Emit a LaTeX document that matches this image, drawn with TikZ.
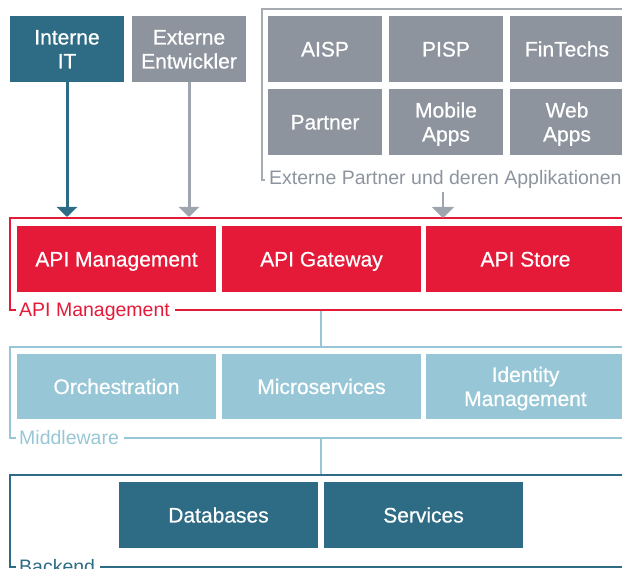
\documentclass[tikz,border=0pt]{standalone}
\usepackage{fontspec}
\setmainfont{Liberation Sans}
\newfontfamily\medfont[FakeBold=0.6]{Liberation Sans}
\usetikzlibrary{arrows.meta}
\definecolor{apired}{HTML}{E41A38}
\definecolor{tealc}{HTML}{2E6C85}
\definecolor{grayb}{HTML}{8E949E}
\definecolor{lblue}{HTML}{97C7D6}
\definecolor{arrgray}{HTML}{9EA5AE}
\definecolor{framegray}{HTML}{A6ABB2}
\begin{document}
\begin{tikzpicture}[x=1pt,y=-1pt,
  box/.style={draw=none, inner sep=0pt, text=white, align=center,
    font=\medfont\fontsize{21}{24}\selectfont, minimum height=66pt,
    text height=15pt, text depth=0pt},
  two/.style={text height=39pt, text depth=0pt},
  sbox/.style={box, minimum width=114pt},
  wbox/.style={box, minimum width=199pt},
  lab/.style={inner ysep=0pt, inner xsep=3pt, anchor=base west,
    font=\fontsize{19.5}{22}\selectfont},
  frameline/.style={line width=1.3pt},
  bigarrow/.style={line width=3pt, -{Triangle[width=20pt,length=10pt]}},
  link/.style={lblue, line width=2pt}]
\useasboundingbox (0,0) rectangle (622,569);
\clip (0,0) rectangle (622,569);

% top boxes
\node[sbox, two, fill=tealc] (iit) at (67,49) {Interne\\IT};
\node[sbox, two, fill=grayb] (ee) at (189,49) {Externe\\Entwickler};
\node[sbox, fill=grayb] (aisp) at (325,49) {AISP};
\node[sbox, fill=grayb] (pisp) at (446,49) {PISP};
\node[sbox, fill=grayb] (fin) at (567,49) {FinTechs};
\node[sbox, fill=grayb] (partner) at (325,122) {Partner};
\node[sbox, two, fill=grayb] (mobile) at (446,122) {Mobile\\Apps};
\node[sbox, two, fill=grayb] (web) at (567,122) {Web\\Apps};

% external partner frame
\coordinate (ef1) at (640,9);
\coordinate (ef2) at (262,9);
\coordinate (ef3) at (262,180);
\coordinate (ef4) at (265,180);
\draw[framegray, frameline] (ef1) -- (ef2) -- (ef3) -- (ef4);
\node[lab, text=grayb, inner xsep=4pt] (lext) at (265,185) {Externe Partner und deren Applikationen};

% API management layer
\node[wbox, fill=apired] (apim) at (116.5,259) {API Management};
\node[wbox, fill=apired] (apig) at (321.5,259) {API Gateway};
\node[wbox, fill=apired] (apis) at (525.5,259) {API Store};
\coordinate (af1) at (640,218);
\coordinate (af2) at (10,218);
\coordinate (af3) at (10,310);
\coordinate (af4) at (16,310);
\coordinate (af5) at (640,310);
\coordinate (ay) at (0,310);
\draw[apired, frameline] (af1) -- (af2) -- (af3) -- (af4);
\node[lab, text=apired] (lapi) at (16,317) {API Management};
\draw[apired, frameline] ([xshift=2pt]lapi.east |- ay) -- (af5);

% arrows
\coordinate (a1) at (67,217);
\coordinate (a2) at (189,217);
\coordinate (a3s) at (443,192);
\coordinate (a3) at (443,218);
\draw[bigarrow, tealc] (iit.south) -- (a1);
\draw[bigarrow, arrgray] (ee.south) -- (a2);
\draw[arrgray, line width=2pt, -{Triangle[width=22pt,length=11pt]}] (a3s) -- (a3);

% Middleware layer
\node[wbox, fill=lblue, minimum height=65pt] (orch) at (116.5,386.5) {Orchestration};
\node[wbox, fill=lblue, minimum height=65pt] (micro) at (321.5,386.5) {Microservices};
\node[wbox, two, fill=lblue, minimum height=65pt] (idm) at (525.5,386.5) {Identity\\Management};
\coordinate (mf1) at (640,347);
\coordinate (mf2) at (10,347);
\coordinate (mf3) at (10,438);
\coordinate (mf4) at (16,438);
\coordinate (mf5) at (640,438);
\coordinate (my) at (0,438);
\draw[lblue, frameline] (mf1) -- (mf2) -- (mf3) -- (mf4);
\node[lab, text=lblue] (lmid) at (16,445) {Middleware};
\draw[lblue, frameline] ([xshift=2pt]lmid.east |- my) -- (mf5);

% Backend layer
\node[wbox, fill=tealc] (db) at (218.5,515) {Databases};
\node[wbox, fill=tealc] (srv) at (423.5,515) {Services};
\coordinate (bf1) at (640,475);
\coordinate (bf2) at (10,475);
\coordinate (bf3) at (10,567);
\coordinate (bf4) at (16,567);
\coordinate (bf5) at (640,567);
\coordinate (by) at (0,567);
\draw[tealc, frameline] (bf1) -- (bf2) -- (bf3) -- (bf4);
\node[lab, text=tealc] (lback) at (16,574) {Backend};
\draw[tealc, frameline] ([xshift=2pt]lback.east |- by) -- (bf5);

% links between layers
\coordinate (l1a) at (321,310.7);
\coordinate (l1b) at (321,346.3);
\coordinate (l2a) at (321,438.7);
\coordinate (l2b) at (321,474.3);
\draw[link] (l1a) -- (l1b);
\draw[link] (l2a) -- (l2b);
\end{tikzpicture}
\end{document}
